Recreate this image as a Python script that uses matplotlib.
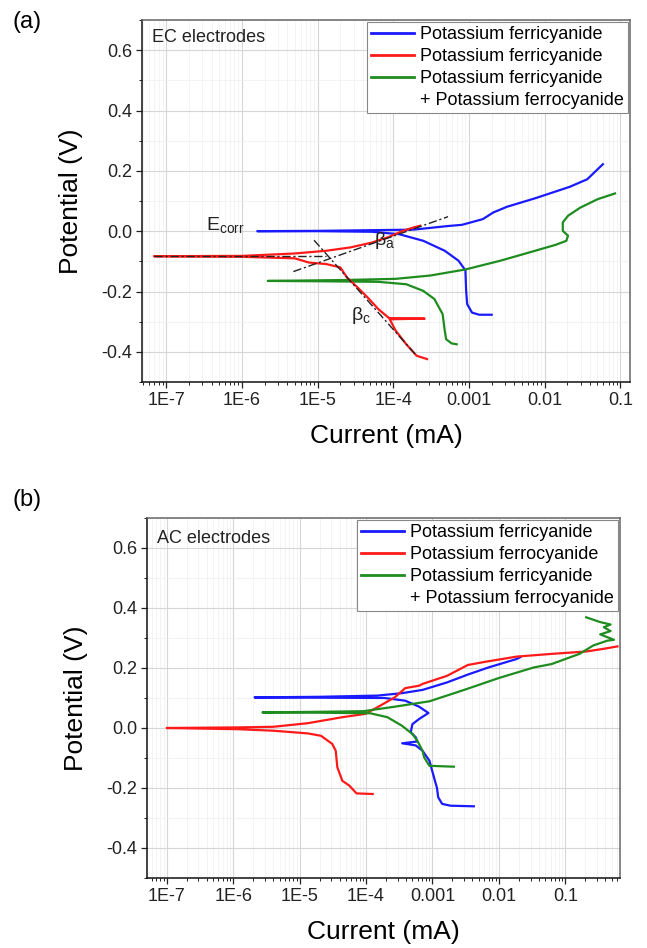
import numpy as np
import matplotlib
matplotlib.use("Agg")
import matplotlib.pyplot as plt
from matplotlib.lines import Line2D
from matplotlib.ticker import MultipleLocator

plt.rcParams['font.family'] = ['Liberation Sans', 'DejaVu Sans']
plt.rcParams['mathtext.default'] = 'regular'

# ---- data: current (mA), potential (V) ----
# (a) EC electrodes
ec_blue_i = [2.0e-3, 1.37e-3, 1.1e-3, 9.5e-4, 9.2e-4, 9.0e-4, 7.3e-4, 4.8e-4, 2.5e-4, 1.2e-4,
             5.2e-5, 1.0e-5, 1.6e-6, 1.0e-5, 1.84e-4, 5.3e-4, 8.1e-4, 1.53e-3, 2.1e-3, 3.2e-3,
             7.5e-3, 0.0215, 0.0366, 0.059]
ec_blue_v = [-0.277, -0.277, -0.270, -0.242, -0.198, -0.130, -0.098, -0.065, -0.032, -0.010,
             -0.002, 0.0, 0.0, 0.001, 0.005, 0.017, 0.021, 0.040, 0.062, 0.081,
             0.109, 0.147, 0.172, 0.222]
ec_red_i = [2.8e-4, 2.04e-4, 1.49e-4, 1.08e-4, 9.0e-5, 2.6e-4, 8.8e-5, 6.4e-5, 4.6e-5, 3.4e-5,
            2.46e-5, 2.0e-5, 1.3e-5, 7.7e-6, 5.0e-6, 1.0e-6, 6.9e-8, 1.0e-6, 5.0e-6, 1.3e-5,
            2.7e-5, 5.2e-5, 8.8e-5, 1.34e-4, 1.84e-4, 2.27e-4]
ec_red_v = [-0.424, -0.413, -0.375, -0.330, -0.292, -0.290, -0.288, -0.259, -0.220, -0.187,
            -0.154, -0.120, -0.109, -0.104, -0.090, -0.085, -0.083, -0.082, -0.074, -0.065,
            -0.054, -0.038, -0.019, 0.001, 0.012, 0.018]
ec_green_i = [6.9e-4, 5.9e-4, 5.0e-4, 4.8e-4, 4.5e-4, 3.5e-4, 2.5e-4, 1.49e-4, 6.4e-5, 1.0e-5,
              2.2e-6, 2.2e-5, 1.08e-4, 3.1e-4, 9.0e-4, 2.6e-3, 7.5e-3, 0.0141, 0.0194, 0.0204,
              0.0174, 0.0174, 0.0204, 0.0296, 0.0502, 0.0853]
ec_green_v = [-0.375, -0.372, -0.358, -0.330, -0.275, -0.225, -0.198, -0.176, -0.168, -0.166,
              -0.165, -0.162, -0.158, -0.147, -0.127, -0.098, -0.065, -0.045, -0.032, -0.015,
              0.001, 0.029, 0.051, 0.078, 0.106, 0.125]
tafel_ecorr_i = [6.9e-8, 1.3e-5]
tafel_ecorr_v = [-0.083, -0.083]
tafel_a_i = [4.8e-6, 5.3e-4]
tafel_a_v = [-0.134, 0.048]
tafel_c_i = [9.0e-6, 2.04e-4]
tafel_c_v = [-0.030, -0.413]

# (b) AC electrodes
ac_blue_i = [4.2e-3, 1.87e-3, 1.4e-3, 1.22e-3, 1.17e-3, 1.09e-3, 9.0e-4, 7.1e-4, 5.6e-4, 3.5e-4,
             5.9e-4, 5.6e-4, 4.7e-4, 5.0e-4, 6.3e-4, 8.7e-4, 6.3e-4, 3.9e-4, 1.9e-4, 2.0e-5,
             2.1e-6, 2.0e-5, 1.48e-4, 3.45e-4, 7.1e-4, 1.66e-3, 3.4e-3, 7.0e-3, 0.0185, 0.021]
ac_blue_v = [-0.261, -0.259, -0.253, -0.231, -0.200, -0.176, -0.109, -0.076, -0.058, -0.051,
             -0.045, -0.031, -0.014, 0.013, 0.030, 0.050, 0.071, 0.091, 0.100, 0.101,
             0.102, 0.104, 0.108, 0.116, 0.127, 0.152, 0.178, 0.202, 0.230, 0.236]
ac_red_i = [1.26e-4, 7.2e-5, 5.6e-5, 4.4e-5, 3.7e-5, 3.5e-5, 3.1e-5, 2.1e-5, 1.33e-5, 4.0e-6,
            1.19e-6, 1.0e-7, 1.19e-6, 4.0e-6, 1.33e-5, 4.4e-5, 9.7e-5, 1.48e-4, 2.7e-4, 3.9e-4,
            6.3e-4, 7.1e-4, 1.66e-3, 3.4e-3, 6.0e-3, 0.0185, 0.0618, 0.206, 0.378, 0.61]
ac_red_v = [-0.220, -0.218, -0.192, -0.176, -0.131, -0.076, -0.053, -0.026, -0.018, -0.009,
            -0.004, 0.0, 0.002, 0.004, 0.016, 0.036, 0.047, 0.069, 0.102, 0.133,
            0.141, 0.147, 0.174, 0.210, 0.220, 0.238, 0.247, 0.255, 0.264, 0.272]
ac_green_i = [2.1e-3, 9.0e-4, 7.5e-4, 7.1e-4, 5.9e-4, 5.0e-4, 3.45e-4, 2.1e-4, 1.16e-4, 2.0e-5,
              2.76e-6, 2.0e-5, 9.1e-5, 2.7e-4, 9.0e-4, 3.0e-3, 0.0101, 0.0338, 0.0618, 0.163,
              0.263, 0.427, 0.54, 0.335, 0.48, 0.38, 0.48, 0.335, 0.206]
ac_green_v = [-0.129, -0.126, -0.098, -0.076, -0.042, -0.020, 0.008, 0.036, 0.049, 0.051,
              0.052, 0.054, 0.056, 0.071, 0.089, 0.127, 0.167, 0.202, 0.213, 0.247,
              0.275, 0.291, 0.294, 0.312, 0.323, 0.336, 0.345, 0.353, 0.369]

xtick_vals = [1e-7, 1e-6, 1e-5, 1e-4, 1e-3, 1e-2, 1e-1]
xtick_labels = ['1E-7', '1E-6', '1E-5', '1E-4', '0.001', '0.01', '0.1']
ytick_vals = [-0.4, -0.2, 0.0, 0.2, 0.4, 0.6]
ytick_labels = ['-0.4', '-0.2', '0.0', '0.2', '0.4', '0.6']

ec_labels = ['Potassium ferricyanide', 'Potassium ferricyanide', 'Potassium ferricyanide',
             '+ Potassium ferrocyanide']
ac_labels = ['Potassium ferricyanide', 'Potassium ferrocyanide', 'Potassium ferricyanide',
             '+ Potassium ferrocyanide']

BLUE = '#1a1aff'
RED = '#ff1a1a'
GREEN = '#1f8c1f'

fig = plt.figure(figsize=(6.47, 9.48), dpi=100)
ax1 = fig.add_axes([142 / 647, 1 - 382 / 948, 488 / 647, 362 / 948])
ax2 = fig.add_axes([147 / 647, 1 - 878 / 948, 473 / 647, 360 / 948])


def style_axes(ax, xlim, labels):
    ax.set_xscale('log')
    ax.set_xlim(*xlim)
    ax.set_ylim(-0.5, 0.7)
    ax.set_xticks(xtick_vals, xtick_labels)
    ax.set_yticks(ytick_vals, ytick_labels)
    ax.yaxis.set_minor_locator(MultipleLocator(0.1))
    ax.grid(which='major', color='#d6d6d6', lw=0.8)
    ax.grid(which='minor', color='#efefef', lw=0.5)
    ax.set_axisbelow(True)
    ax.tick_params(which='major', direction='out', length=4, width=0.9, labelsize=13,
                   pad=3, colors='#222222')
    ax.tick_params(which='minor', direction='out', length=2.2, width=0.7, color='#222222')
    for s in ['left', 'bottom']:
        ax.spines[s].set_color('#111111')
        ax.spines[s].set_linewidth(1.1)
    for s in ['top', 'right']:
        ax.spines[s].set_color('#666666')
        ax.spines[s].set_linewidth(1.1)
    ax.set_xlabel('Current (mA)', fontsize=19, labelpad=11)
    ax.set_ylabel('Potential (V)', fontsize=19, labelpad=13)
    handles = [Line2D([], [], color=BLUE, lw=2), Line2D([], [], color=RED, lw=2),
               Line2D([], [], color=GREEN, lw=2), Line2D([], [], color='none')]
    leg = ax.legend(handles, labels, loc='upper right', bbox_to_anchor=(1.0, 1.0),
                    fontsize=13, frameon=True, fancybox=False, framealpha=1,
                    edgecolor='#888888', borderpad=0.25, labelspacing=0.27,
                    handlelength=2.4, handletextpad=0.3, borderaxespad=0.1)
    leg.get_frame().set_linewidth(0.8)


# (a)
style_axes(ax1, (4.8e-8, 0.1345), ec_labels)
ax1.plot(ec_blue_i, ec_blue_v, color=BLUE, lw=1.6)
ax1.plot(ec_green_i, ec_green_v, color=GREEN, lw=1.6)
ax1.plot(ec_red_i, ec_red_v, color=RED, lw=1.6)
for ti, tv in [(tafel_ecorr_i, tafel_ecorr_v), (tafel_a_i, tafel_a_v), (tafel_c_i, tafel_c_v)]:
    ax1.plot(ti, tv, color='#222222', lw=1.0, ls=(0, (6, 2, 1.5, 2)))
ax1.text(3.4e-7, 0.022, 'E$_{corr}$', fontsize=14, va='center', color='#222222')
ax1.text(5.5e-5, -0.03, 'β$_{a}$', fontsize=14, va='center', color='#222222')
ax1.text(2.8e-5, -0.278, 'β$_{c}$', fontsize=14, va='center', color='#222222')
ax1.text(0.02, 0.953, 'EC electrodes', transform=ax1.transAxes, fontsize=13,
         va='center', color='#222222')

# (b)
style_axes(ax2, (5.05e-8, 0.665), ac_labels)
ax2.plot(ac_blue_i, ac_blue_v, color=BLUE, lw=1.6)
ax2.plot(ac_red_i, ac_red_v, color=RED, lw=1.6)
ax2.plot(ac_green_i, ac_green_v, color=GREEN, lw=1.6)
ax2.text(0.021, 0.944, 'AC electrodes', transform=ax2.transAxes, fontsize=13,
         va='center', color='#222222')

fig.text(12 / 647, 1 - 22 / 948, '(a)', fontsize=17, va='center')
fig.text(12 / 647, 1 - 500 / 948, '(b)', fontsize=17, va='center')

fig.savefig('out.png', dpi=100)
